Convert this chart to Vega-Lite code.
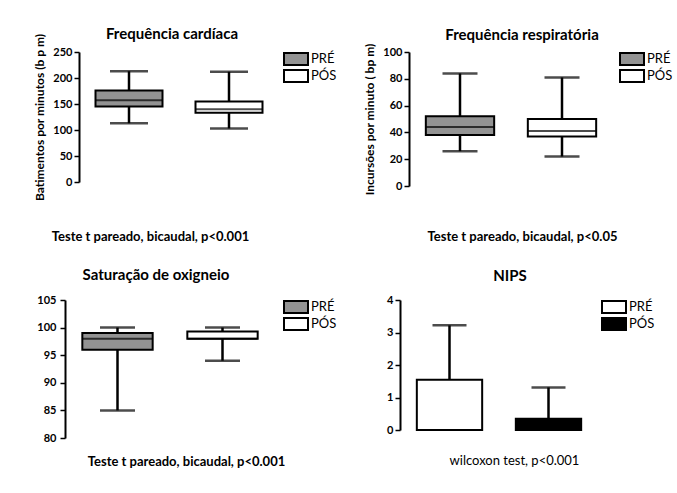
{
  "$schema": "https://vega.github.io/schema/vega-lite/v6.json",
  "background": "white",
  "padding": {"left": 33, "top": 27, "right": 5, "bottom": 5},
  "config": {
    "view": {"stroke": null},
    "font": "Lato",
    "title": {"fontSize": 15, "fontWeight": "bold", "font": "Lato", "color": "black", "anchor": "middle", "offset": 8},
    "axisY": {"grid": false, "domainColor": "black", "domainWidth": 2, "tickColor": "black", "tickWidth": 1.5, "tickSize": 5, "labelFontWeight": "bold", "labelFontSize": 11, "labelColor": "black", "labelPadding": 2, "titleFontWeight": "bold", "titleFontSize": 12, "titleColor": "black", "titlePadding": 6, "labelOverlap": false},
    "axisX": {"domain": false, "ticks": false, "labels": false, "grid": false, "titleFontWeight": "bold", "titleFontSize": 13, "titleColor": "black"},
    "legend": {"title": null, "orient": "right", "offset": 10, "padding": 0, "symbolType": "M-2,-1H2V1H-2Z", "symbolSize": 144, "symbolStrokeColor": "black", "symbolStrokeWidth": 2, "labelFontSize": 13, "labelColor": "black", "labelOffset": 8, "rowPadding": -5}
  },
  "resolve": {"scale": {"fill": "independent"}, "legend": {"fill": "independent"}},
  "spacing": 25,
  "vconcat": [
    {
      "spacing": 26,
      "resolve": {"scale": {"fill": "independent"}, "legend": {"fill": "independent"}},
      "hconcat": [
        {
          "title": {"text": "Frequência cardíaca", "offset": -9},
          "width": 214, "height": 130,
          "data": {"values": [
            {"grupo": "PRÉ", "min": 113, "q1": 145, "med": 157, "q3": 176, "max": 213},
            {"grupo": "PÓS", "min": 103, "q1": 133, "med": 140, "q3": 155, "max": 212}
          ]},
          "encoding": {"x": {"field": "grupo", "type": "nominal", "sort": ["PRÉ", "PÓS"], "scale": {"paddingInner": 0, "paddingOuter": 0.07, "align": 1}, "axis": {"title": "Teste t pareado, bicaudal, p<0.001", "titlePadding": 48, "titleX": 85}}},
          "layer": [
            {"mark": {"type": "rule", "color": "black", "strokeWidth": 2.5}, "encoding": {"y": {"field": "min", "type": "quantitative", "title": "Batimentos por minutos (b p m)", "scale": {"domain": [0, 250], "nice": false}, "axis": {"values": [0, 50, 100, 150, 200, 250], "offset": -14}}, "y2": {"field": "max"}}},
            {"mark": {"type": "tick", "color": "black", "size": 38, "thickness": 2.5}, "encoding": {"y": {"field": "min", "type": "quantitative", "title": "Batimentos por minutos (b p m)", "axis": {"values": [0, 50, 100, 150, 200, 250], "offset": -14}}}},
            {"mark": {"type": "tick", "color": "black", "size": 38, "thickness": 2.5}, "encoding": {"y": {"field": "max", "type": "quantitative", "title": "Batimentos por minutos (b p m)", "axis": {"values": [0, 50, 100, 150, 200, 250], "offset": -14}}}},
            {"mark": {"type": "bar", "width": 67, "stroke": "black", "strokeWidth": 2}, "encoding": {"y": {"field": "q1", "type": "quantitative", "title": "Batimentos por minutos (b p m)", "axis": {"values": [0, 50, 100, 150, 200, 250], "offset": -14}}, "y2": {"field": "q3"}, "fill": {"field": "grupo", "type": "nominal", "sort": ["PRÉ", "PÓS"], "scale": {"domain": ["PRÉ", "PÓS"], "range": ["#939393", "#ffffff"]}, "legend": {"offset": 10}}}},
            {"mark": {"type": "tick", "color": "black", "size": 67, "thickness": 2}, "encoding": {"y": {"field": "med", "type": "quantitative", "title": "Batimentos por minutos (b p m)", "axis": {"values": [0, 50, 100, 150, 200, 250], "offset": -14}}}}
          ]
        },
        {
          "title": {"text": "Frequência respiratória", "dx": 11, "offset": 0},
          "width": 204, "height": 134,
          "data": {"values": [
            {"grupo": "PRÉ", "min": 26, "q1": 38, "med": 44, "q3": 52, "max": 84},
            {"grupo": "PÓS", "min": 22, "q1": 37, "med": 41, "q3": 50, "max": 81}
          ]},
          "encoding": {"x": {"field": "grupo", "type": "nominal", "sort": ["PRÉ", "PÓS"], "scale": {"paddingInner": 0, "paddingOuter": 0}, "axis": {"title": "Teste t pareado, bicaudal, p<0.05", "titlePadding": 44, "titleX": 113}}},
          "layer": [
            {"mark": {"type": "rule", "color": "black", "strokeWidth": 2.5}, "encoding": {"y": {"field": "min", "type": "quantitative", "title": "Incursões por minuto ( bp m)", "scale": {"domain": [0, 100], "nice": false}, "axis": {"values": [0, 20, 40, 60, 80, 100]}}, "y2": {"field": "max"}}},
            {"mark": {"type": "tick", "color": "black", "size": 35, "thickness": 2.5}, "encoding": {"y": {"field": "min", "type": "quantitative", "title": "Incursões por minuto ( bp m)", "axis": {"values": [0, 20, 40, 60, 80, 100]}}}},
            {"mark": {"type": "tick", "color": "black", "size": 35, "thickness": 2.5}, "encoding": {"y": {"field": "max", "type": "quantitative", "title": "Incursões por minuto ( bp m)", "axis": {"values": [0, 20, 40, 60, 80, 100]}}}},
            {"mark": {"type": "bar", "width": {"band": 0.67}, "stroke": "black", "strokeWidth": 2}, "encoding": {"y": {"field": "q1", "type": "quantitative", "title": "Incursões por minuto ( bp m)", "axis": {"values": [0, 20, 40, 60, 80, 100]}}, "y2": {"field": "q3"}, "fill": {"field": "grupo", "type": "nominal", "sort": ["PRÉ", "PÓS"], "scale": {"domain": ["PRÉ", "PÓS"], "range": ["#939393", "#ffffff"]}, "legend": {"offset": 12}}}},
            {"mark": {"type": "tick", "color": "black", "size": 68, "thickness": 2}, "encoding": {"y": {"field": "med", "type": "quantitative", "title": "Incursões por minuto ( bp m)", "axis": {"values": [0, 20, 40, 60, 80, 100]}}}}
          ]
        }
      ]
    },
    {
      "spacing": 49,
      "resolve": {"scale": {"fill": "independent"}, "legend": {"fill": "independent"}},
      "hconcat": [
        {
          "title": {"text": "Saturação de oxigneio", "dx": -14, "offset": 11},
          "width": 210, "height": 138,
          "data": {"values": [
            {"grupo": "PRÉ", "min": 85, "q1": 96, "med": 98, "q3": 99, "max": 100},
            {"grupo": "PÓS", "min": 94, "q1": 98, "med": 98, "q3": 99.3, "max": 100}
          ]},
          "encoding": {"x": {"field": "grupo", "type": "nominal", "sort": ["PRÉ", "PÓS"], "scale": {"paddingInner": 0, "paddingOuter": 0}, "axis": {"title": "Teste t pareado, bicaudal, p<0.001", "titlePadding": 17, "titleX": 121}}},
          "layer": [
            {"mark": {"type": "rule", "color": "black", "strokeWidth": 2.5}, "encoding": {"y": {"field": "min", "type": "quantitative", "title": null, "scale": {"domain": [80, 105], "nice": false, "zero": false}, "axis": {"values": [80, 85, 90, 95, 100, 105], "labelPadding": 4}}, "y2": {"field": "max"}}},
            {"mark": {"type": "tick", "color": "black", "size": 35, "thickness": 2.5}, "encoding": {"y": {"field": "min", "type": "quantitative", "title": null, "axis": {"values": [80, 85, 90, 95, 100, 105], "labelPadding": 4}}}},
            {"mark": {"type": "tick", "color": "black", "size": 35, "thickness": 2.5}, "encoding": {"y": {"field": "max", "type": "quantitative", "title": null, "axis": {"values": [80, 85, 90, 95, 100, 105], "labelPadding": 4}}}},
            {"mark": {"type": "bar", "width": {"band": 0.67}, "stroke": "black", "strokeWidth": 2}, "encoding": {"y": {"field": "q1", "type": "quantitative", "title": null, "axis": {"values": [80, 85, 90, 95, 100, 105], "labelPadding": 4}}, "y2": {"field": "q3"}, "fill": {"field": "grupo", "type": "nominal", "sort": ["PRÉ", "PÓS"], "scale": {"domain": ["PRÉ", "PÓS"], "range": ["#939393", "#ffffff"]}, "legend": {"offset": 14}}}},
            {"mark": {"type": "tick", "color": "black", "size": 70, "thickness": 2}, "encoding": {"y": {"field": "med", "type": "quantitative", "title": null, "axis": {"values": [80, 85, 90, 95, 100, 105], "labelPadding": 4}}}}
          ]
        },
        {
          "title": {"text": "NIPS", "dx": 11, "offset": 10},
          "width": 198, "height": 130,
          "data": {"values": [
            {"grupo": "PRÉ", "media": 1.55, "sup": 3.22},
            {"grupo": "PÓS", "media": 0.35, "sup": 1.31}
          ]},
          "encoding": {"x": {"field": "grupo", "type": "nominal", "sort": ["PRÉ", "PÓS"], "scale": {"paddingInner": 0, "paddingOuter": 0}, "axis": {"title": "wilcoxon test, p<0.001", "titleFontWeight": "normal", "titlePadding": 24, "titleX": 114}}},
          "layer": [
            {"mark": {"type": "rule", "color": "black", "strokeWidth": 2.5}, "encoding": {"y": {"field": "media", "type": "quantitative", "title": null, "scale": {"domain": [0, 4], "nice": false}, "axis": {"values": [0, 1, 2, 3, 4]}}, "y2": {"field": "sup"}}},
            {"mark": {"type": "tick", "color": "black", "size": 34, "thickness": 2.5}, "encoding": {"y": {"field": "sup", "type": "quantitative", "title": null, "axis": {"values": [0, 1, 2, 3, 4]}}}},
            {"mark": {"type": "bar", "width": {"band": 0.66}, "stroke": "black", "strokeWidth": 2}, "encoding": {"y": {"field": "media", "type": "quantitative", "title": null, "axis": {"values": [0, 1, 2, 3, 4]}}, "fill": {"field": "grupo", "type": "nominal", "sort": ["PRÉ", "PÓS"], "scale": {"domain": ["PRÉ", "PÓS"], "range": ["#ffffff", "#000000"]}, "legend": {"offset": 9}}}}
          ]
        }
      ]
    }
  ]
}
